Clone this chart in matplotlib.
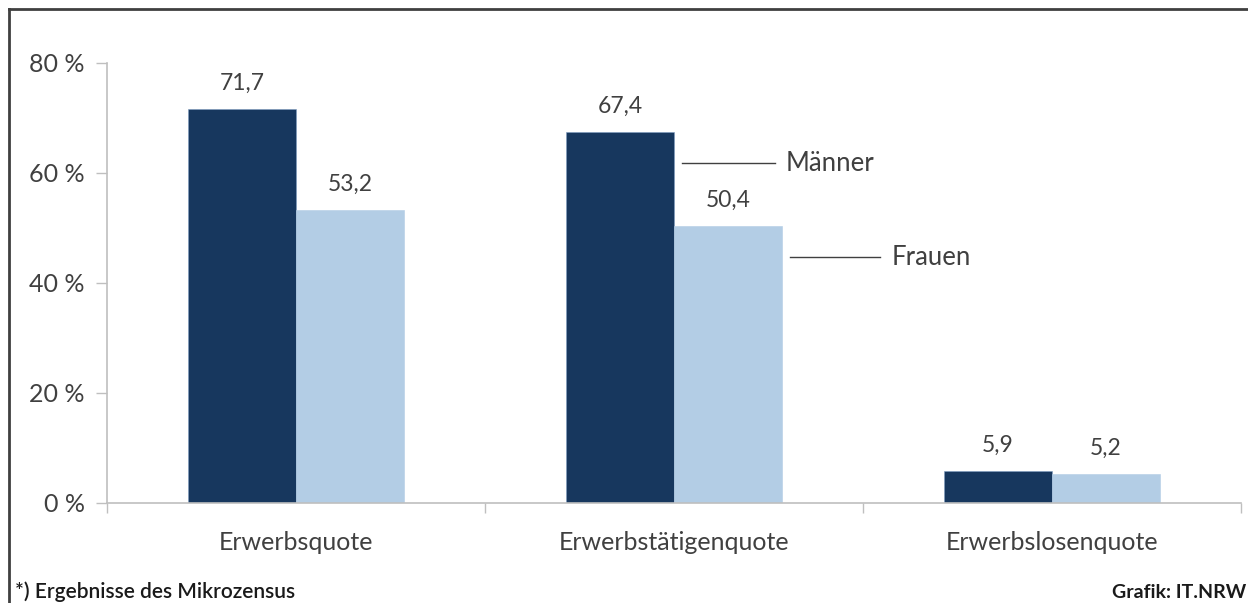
import matplotlib
matplotlib.use("Agg")
import matplotlib.pyplot as plt
import numpy as np
from matplotlib.lines import Line2D

categories = ["Erwerbsquote", "Erwerbstätigenquote", "Erwerbslosenquote"]
maenner = [71.7, 67.4, 5.9]
frauen = [53.2, 50.4, 5.2]
yticks = [0, 20, 40, 60, 80]
series_names = ["Männer", "Frauen"]

plt.rcParams['font.family'] = ['Lato', 'DejaVu Sans']
txt = '#404040'
dark = '#17375E'
light = '#B3CDE5'

fig = plt.figure(figsize=(12.48, 6.03), dpi=100)
ax = fig.add_axes([107/1248, 1-503/603, (1241-107)/1248, (503-63)/603])

x = np.arange(len(categories))
w = 108/378
ax.bar(x - w/2, maenner, w, color=dark, edgecolor='#7f9cc0', linewidth=0.4)
ax.bar(x + w/2, frauen, w, color=light, edgecolor=light, linewidth=0.4)

for xs, vals in ((x - w/2, maenner), (x + w/2, frauen)):
    for xi, v in zip(xs, vals):
        ax.annotate(f"{v:.1f}".replace('.', ','), (xi, v), xytext=(0, 18.5), textcoords='offset points',
                    ha='center', va='center', fontsize=16.5, color=txt)

ax.set_xlim(-0.5, 2.5)
ax.set_ylim(0, 80)
ax.set_yticks(yticks)
ax.set_yticklabels([f"{t} %" for t in yticks], fontsize=18, color=txt)
ax.tick_params(axis='y', length=8, width=1, color='#bfbfbf', pad=8)
ax.set_xticks(x)
ax.set_xticklabels(categories, fontsize=18, color=txt)
ax.tick_params(axis='x', length=0, pad=20)
ax.set_xticks([-0.5, 0.5, 1.5, 2.5], minor=True)
ax.tick_params(axis='x', which='minor', length=7, width=1, color='#bfbfbf')

for s in ['top', 'right']:
    ax.spines[s].set_visible(False)
for s in ['left', 'bottom']:
    ax.spines[s].set_color('#bfbfbf')
    ax.spines[s].set_linewidth(1.2)

# series labels with leader lines
ax.plot([1.021, 1.267], [61.8, 61.8], color='#404040', lw=1, clip_on=False)
ax.text(1.294, 61.8, series_names[0], fontsize=18.5, color=txt, va='center', ha='left')
ax.plot([1.307, 1.545], [44.7, 44.7], color='#404040', lw=1, clip_on=False)
ax.text(1.577, 44.7, series_names[1], fontsize=18.5, color=txt, va='center', ha='left')

# frame (top and left edges)
fig.add_artist(Line2D([9/1248, 1], [1-9/603, 1-9/603], color='#404040', lw=2, transform=fig.transFigure))
fig.add_artist(Line2D([9/1248, 9/1248], [0, 1-9/603], color='#404040', lw=2, transform=fig.transFigure))

fig.text(15/1248, 1-592/603, "*) Ergebnisse des Mikrozensus", fontsize=15, color='#1a1a1a',
         fontweight='semibold', ha='left', va='center')
fig.text(1246/1248, 1-592/603, "Grafik: IT.NRW", fontsize=14, color='#1a1a1a',
         fontweight='bold', ha='right', va='center')

fig.savefig("out.png", dpi=100)
